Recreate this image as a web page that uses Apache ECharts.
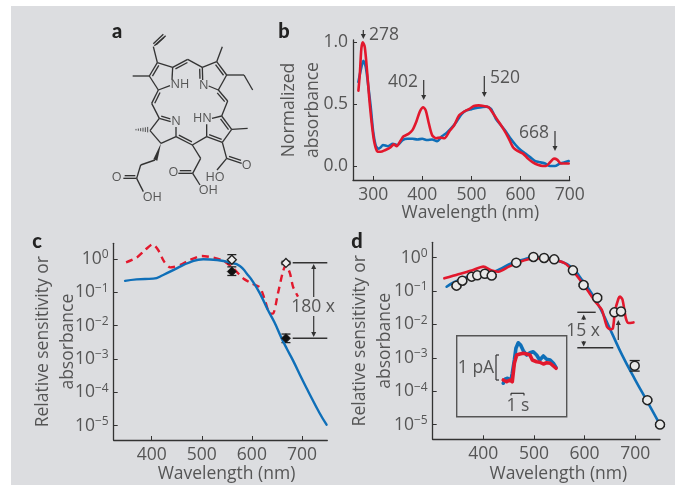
<!DOCTYPE html>
<html><head><meta charset="utf-8">
<style>html,body{margin:0;padding:0;background:#fff}#c{width:675px;height:485px}</style>
<script src="https://cdn.jsdelivr.net/npm/echarts@6/dist/echarts.min.js"></script>
</head><body><div id="c"></div>
<script>
// Panel b
const nmBBlue=[270,275,280,285,290,295,300,305,310,315,320,330,340,350,360,370,380,390,400,410,420,430,440,450,460,470,480,490,500,510,520,530,540,550,560,570,580,590,600,610,620,630,640,650,660,670,680,690,698];
const absBBlue=[.68,.78,.85,.80,.65,.48,.28,.17,.14,.15,.17,.16,.18,.17,.21,.22,.22,.215,.22,.21,.215,.20,.24,.27,.31,.36,.42,.45,.46,.47,.475,.48,.46,.38,.33,.28,.22,.17,.13,.10,.07,.04,.03,.02,0,0,.02,.03,.04];
const nmBRed=[270,273,276,279,283,288,292,297,302,308,315,325,335,342,348,355,362,372,380,388,395,402,407,413,420,428,437,445,455,465,475,485,495,505,515,525,535,545,555,565,575,585,595,605,615,625,635,645,652,660,668,675,682,690,698];
const absBRed=[.61,.75,.95,1,.96,.75,.55,.35,.2,.12,.115,.13,.15,.175,.16,.2,.24,.26,.29,.36,.44,.475,.45,.35,.25,.225,.23,.225,.28,.33,.41,.44,.46,.485,.49,.485,.475,.42,.36,.3,.23,.15,.12,.1,.06,.03,.01,0,0,.03,.06,.05,.02,.02,.02];
const ticksB=[300,400,500,600,700];
const ticksBY=[0,.5,1];
// Panel c
const nmCBlue=[347,370,403,423,450,476,503,530,556,576,590,602,616,632,645,659,670,682,700,712,735,749];
const sensCBlue=[.22,.245,.257,.33,.525,.79,.98,.93,.79,.62,.36,.21,.093,.0295,.0126,.0043,.002,.00091,.00025,.00011,.000024,.0000107];
const nmCRed=[349,370,387,402,413,425,437,457,476,500,523,543,563,583,599,616,626,636,642,652,662,668,676,682,692];
const absCRed=[.79,1.1,1.86,2.75,1.86,.83,.56,.66,.93,1.23,1.1,.89,.52,.26,.186,.14,.059,.023,.023,.093,.42,.66,.37,.148,.074];
const nmCPts=[560,668];
const openC=[.95,.76], openCLow=[.72,.68], openCHigh=[1.35,.85];
const filledC=[.42,.0042], filledCLow=[.32,.0031], filledCHigh=[.58,.0056];
// Panel d
const nmDBlue=[327.5,344,364,390,416.5,436,456,476,499,522,548,575,594,614,634,654,674,700,720,749];
const absDBlue=[.135,.19,.25,.30,.355,.48,.68,.85,1.02,1,.81,.51,.224,.085,.0245,.0055,.00123,.00022,.000063,.00001];
const nmDRed=[323,350.6,377,400,416.5,430,450.6,469,489,509,535,561,581,601,621,634,644,650.5,656,660,667,670,675,681.5,687,696.6];
const absDRed=[.24,.32,.41,.54,.41,.38,.54,.71,.89,.95,.89,.68,.34,.135,.049,.0275,.0087,.0072,.0078,.0245,.06,.068,.055,.0155,.011,.0115];
const nmDPts=[347,358.5,377,388,403,416.5,465,499,520,540,577,598,625,659,672,699,724,749];
const sensD=[.145,.204,.27,.295,.33,.29,.71,1.05,.98,.89,.417,.151,.063,.023,.0245,.00058,.000054,.00001];
const sensDLow=[.135,.19,.255,.28,.31,.27,.67,1,.94,.84,.39,.14,.056,.0225,.024,.0004,.00005,.000009];
const sensDHigh=[.155,.22,.285,.31,.35,.31,.75,1.1,1.02,.94,.445,.162,.07,.0235,.025,.00083,.000058,.000011];
const ticksLogX=[400,500,600,700];
const ticksLogY=[1,.1,.01,.001,.0001,.00001];
// Inset
const tBlue=[0,.13,.33,.59,.69,.85,.97,1.15,1.33,1.54,1.79,2.05,2.3,2.56,2.8,3.08,3.33,3.6,3.85,4.05];
const pABlue=[-.13,.03,.07,0,.27,.8,1.27,1.49,1.4,1.17,1,1.09,1.13,1,.8,.96,.83,.8,.67,.5];
const tRed=[0,.26,.51,.69,.85,1.03,1.28,1.54,1.79,2.05,2.23,2.56,2.8,3.08,3.33,3.6,3.85,4.05];
const pARed=[0,-.07,0,-.07,.67,1,1.04,1.07,1.04,1,.8,.73,.71,.64,.69,.67,.56,.47];

const BLUE='#0f6fb8',RED='#e2182d',INK='#333',TXT='#555',FONT='Open Sans',FS=17.5;
const zip=(a,b)=>a.map((v,i)=>[v,b[i]]);
const line=(i,x,y,c,w,extra)=>Object.assign({type:'line',xAxisIndex:i,yAxisIndex:i,data:zip(x,y),showSymbol:false,smooth:.25,z:3,
  lineStyle:{color:c,width:w,cap:'round',join:'round'},silent:true},extra||{});
const pow10=v=>{const e=Math.round(Math.log10(v));return '{b|10}{s|'+(e<0?'\u2212'+(-e):e)+'}';};
const rich={b:{fontFamily:FONT,fontSize:FS,color:TXT},s:{fontFamily:FONT,fontSize:12,color:TXT,padding:[0,0,8,0]}};
const xAx=(g,min,max,vals,pad,gap)=>({type:'value',gridIndex:g,min,max,
  axisLine:{onZero:false,lineStyle:{color:INK,width:1.3}},splitLine:{show:false},
  axisTick:{inside:true,length:4,lineStyle:{color:INK},customValues:vals},
  axisLabel:{customValues:vals,fontFamily:FONT,fontSize:FS,color:TXT,margin:6,showMinLabel:true,showMaxLabel:true},
  name:'Wavelength (nm)',nameLocation:'middle',nameGap:gap,nameMoveOverlap:false,
  nameTextStyle:{fontFamily:FONT,fontSize:FS,color:TXT,padding:[0,0,0,pad]}});
const yLog=(g,min,max,gap)=>({type:'log',logBase:10,gridIndex:g,min,max,
  axisLine:{onZero:false,lineStyle:{color:INK,width:1.3}},splitLine:{show:false},minorTick:{show:false},
  axisTick:{inside:true,length:4,lineStyle:{color:INK},customValues:ticksLogY},
  axisLabel:{customValues:ticksLogY,formatter:pow10,rich,margin:5},
  name:'Relative sensitivity or\nabsorbance',nameLocation:'middle',nameGap:gap,nameRotate:90,nameMoveOverlap:false,
  nameTextStyle:{fontFamily:FONT,fontSize:FS,color:TXT,lineHeight:25}});
const errBars=(i,x,lo,hi,half)=>({type:'custom',xAxisIndex:i,yAxisIndex:i,silent:true,z:4,
  data:x.map((v,k)=>[v,lo[k],hi[k]]),encode:{x:0,y:[1,2]},clip:false,
  renderItem:(p,api)=>{const a=api.coord([api.value(0),api.value(1)]),b=api.coord([api.value(0),api.value(2)]);
    const st={stroke:'#222',lineWidth:1.3};
    return {type:'group',children:[
      {type:'line',shape:{x1:a[0],y1:a[1],x2:b[0],y2:b[1]},style:st},
      {type:'line',shape:{x1:a[0]-half,y1:a[1],x2:a[0]+half,y2:a[1]},style:st},
      {type:'line',shape:{x1:b[0]-half,y1:b[1],x2:b[0]+half,y2:b[1]},style:st}]};}});
const pts=(i,x,y,sym,sz,fill,sw)=>({type:'scatter',xAxisIndex:i,yAxisIndex:i,data:zip(x,y),symbol:sym,symbolSize:sz,silent:true,z:5,clip:false,
  itemStyle:{color:fill,borderColor:'#222',borderWidth:sw,opacity:1}});

// Decoration (not data): background, molecule, labels, arrows
const g=[];
g.push({type:'rect',shape:{x:11,y:6,width:664,height:479},style:{fill:'#dcdde0'},z:-10});
const txt=(s,x,y,o)=>g.push(Object.assign({type:'text',x,y,style:{text:s,fontFamily:FONT,fontSize:FS,fill:TXT,textAlign:'center',textVerticalAlign:'middle'},z:6},o||{}));
const seg=(x1,y1,x2,y2,w,c)=>g.push({type:'line',shape:{x1,y1,x2,y2},style:{stroke:c||INK,lineWidth:w||1.2},z:6});
const arrow=(x,y1,y2,w)=>{ // tip at y2
  const d=y2>y1?1:-1;seg(x,y1,x,y2-d*3,w||1.2);
  g.push({type:'polygon',shape:{points:[[x-2.5,y2-d*5],[x+2.5,y2-d*5],[x,y2]]},style:{fill:INK},z:6});};
[['a',117,32],['b',284,32],['c',37,242],['d',357,242]].forEach(([s,x,y])=>txt(s,x,y,{style:{text:s,fontFamily:'Lato',fontWeight:900,fontSize:20,fill:'#222',textAlign:'center',textVerticalAlign:'middle'}}));
// panel b labels
txt('278',384,35);arrow(363.3,30,39);
txt('402',403,82);arrow(423.7,80,100);
txt('520',505,78);arrow(484.3,76,97);
txt('668',534,133);arrow(555,131,151);
// panel c annotations
seg(292.7,262.7,327.3,262.7,1.4);seg(292.7,338.3,327.3,338.3,1.4);
arrow(313.7,297,264);arrow(313.7,316,337);
txt('180 x',313,307);
// panel d annotations
seg(577.3,312.3,595.7,312.3,1.4);seg(577.3,347.7,613.3,347.7,1.4);
arrow(583.7,320,314.5);arrow(583.7,341,346.5);
txt('15 x',583,331);arrow(618.3,340,320);
g.push({type:'rect',shape:{x:456.7,y:335.7,width:110,height:81},style:{fill:'none',stroke:'#555',lineWidth:1.4},z:1});
txt('1 pA',476,368);
seg(499,355,496,355);seg(496,355,496,380);seg(496,380,499,380);
seg(511,393.3,524,393.3);seg(511,393.3,511,395.5);seg(524,393.3,524,395.5);
txt('1 s',518,406);
// molecule, in zoomed drawing units (3x) around (100,15)
const M=[[197,62,163,92],[160,95,172,143],[172,143,218,157],[218,157,216,194],[148,183,175,225],[175,225,210,212],[98,183,148,183],[263,133,307,157],[307,157,350,140],[380,180,355,225],[355,225,326,213],[350,140,367,95],[380,180,432,180],[432,180,458,225],[383,258,365,303],[365,303,336,310],[395,343,367,382],[320,365,320,328],[395,343,443,340],[367,382,380,430],[380,430,351,465],[320,365,277,390],[228,365,183,385],[228,365,228,336],[178,310,150,347],[150,347,183,385],[165,435,122,450],[122,450,110,490],[110,490,130,530],[178,310,155,265],[277,390,302,430],[302,430,278,475],[278,475,300,510]];
const MD=[[190,58,160,86],[172,143,148,183],[218,157,263,133],[350,140,380,180],[307,157,308,195],[355,225,383,258],[365,303,395,343],[367,382,320,365],[277,390,228,365],[178,310,212,320],[380,430,425,445],[110,490,70,490],[155,265,175,225],[278,475,235,475]];
const kids=[];
const l=(a,b,c,d,w)=>kids.push({type:'line',shape:{x1:a,y1:b,x2:c,y2:d},style:{stroke:INK,lineWidth:w||4}});
M.forEach(s=>l(...s));
MD.forEach(([a,b,c,d])=>{const L=Math.hypot(c-a,d-b),ox=-(d-b)/L*8,oy=(c-a)/L*8,cx=(a+c)/2,cy=(b+d)/2,q=(cx-270)*ox+(cy-265)*oy<0?1:-1;
  l(a,b,c,d);l(a+q*ox+(c-a)*.1,b+q*oy+(d-b)*.1,c+q*ox-(c-a)*.1,d+q*oy-(d-b)*.1);});
kids.push({type:'polygon',shape:{points:[[183,385],[172,437],[160,433]]},style:{fill:INK}});
for(let k=0;k<6;k++){const x=108+k*7;l(x,343-(k+1)*1.2,x,345+(k+1)*1.2,2.5);}
[['NH',240,208],['N',311,211],['N',228,318],['HN',307,311],['O',440,450],['HO',345,488],['O',50,488],['OH',157,548],['O',220,473],['OH',325,527]].forEach(([s,x,y])=>
  kids.push({type:'text',x,y,style:{text:s,fontFamily:FONT,fontSize:38,fill:TXT,textAlign:'center',textVerticalAlign:'middle'}}));
g.push({type:'group',x:100,y:15,scaleX:1/3,scaleY:1/3,children:kids,z:6});

const option={animation:false,backgroundColor:'#fff',textStyle:{fontFamily:FONT},graphic:g,
 grid:[{left:353,top:40,width:216.7,height:140},{left:113.7,top:243.3,width:213.6,height:196.7},{left:432.7,top:242.3,width:227.3,height:197},{left:503.3,top:340,width:52.7,height:45}],
 xAxis:[xAx(0,259,700,ticksB,18,24),xAx(1,324.3,750.5,ticksLogX,12,25),xAx(2,300,749,ticksLogX,24,26),
   {type:'value',gridIndex:3,min:0,max:4.05,show:false}],
 yAxis:[{type:'value',gridIndex:0,min:-.113,max:1.019,
   axisLine:{onZero:false,lineStyle:{color:INK,width:1.3}},splitLine:{show:false},
   axisTick:{inside:true,length:4,lineStyle:{color:INK},customValues:ticksBY},
   axisLabel:{customValues:ticksBY,formatter:v=>v.toFixed(1),fontFamily:FONT,fontSize:FS,color:TXT,margin:5},
   name:'Normalized\nabsorbance',nameLocation:'middle',nameGap:28,nameRotate:90,nameMoveOverlap:false,
   nameTextStyle:{fontFamily:FONT,fontSize:FS,color:TXT,lineHeight:24}},
  yLog(1,Math.pow(10,-5.43),Math.pow(10,.47),33),yLog(2,Math.pow(10,-5.44),Math.pow(10,.46),35),
  {type:'value',gridIndex:3,min:-.2,max:1.6,show:false}],
 series:[
  line(0,nmBBlue,absBBlue,BLUE,2.6),line(0,nmBRed,absBRed,RED,2.6,{z:4}),
  line(1,nmCRed,absCRed,RED,2.4,{lineStyle:{color:RED,width:2.4,type:[7,5]}}),line(1,nmCBlue,sensCBlue,BLUE,2.4,{z:4,smooth:.5}),
  errBars(1,nmCPts,openCLow,openCHigh,4.5),errBars(1,nmCPts,filledCLow,filledCHigh,4.5),
  pts(1,nmCPts,openC,'diamond',9,'#eee',1.3),pts(1,nmCPts,filledC,'diamond',9,'#111',1),
  line(2,nmDBlue,absDBlue,BLUE,2.6,{smooth:.5}),line(2,nmDRed,absDRed,RED,2.6,{z:4}),
  errBars(2,nmDPts,sensDLow,sensDHigh,5),pts(2,nmDPts,sensD,'circle',9,'#e8e8e8',1.5),
  line(3,tBlue,pABlue,BLUE,3.6,{smooth:false}),line(3,tRed,pARed,RED,3.6,{smooth:false,z:4})
 ]};
const chart=echarts.init(document.getElementById('c'),null,{renderer:'canvas'});
chart.setOption(option);
</script></body></html>
